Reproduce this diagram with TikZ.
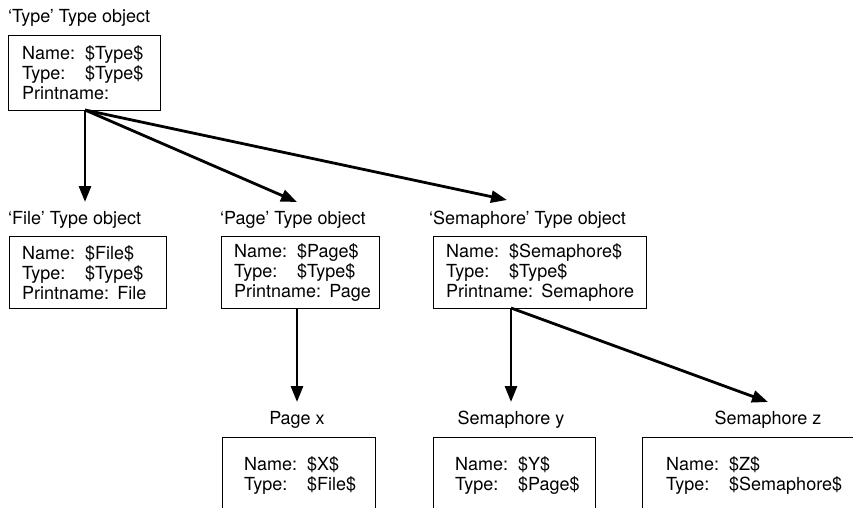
\documentclass[tikz,border=0pt]{standalone}
\usepackage{fontspec}
\setmainfont{TeX Gyre Heros}
\usetikzlibrary{arrows.meta}
% a field label padded to a fixed width, followed by its value
\newcommand{\fld}[2]{\makebox[3.5em][l]{#1}#2}
\begin{document}
\begin{tikzpicture}[x=1pt,y=-1pt,
  every node/.style={font=\fontsize{18}{20}\selectfont},
  heading/.style={inner sep=0pt, anchor=west},
  caption/.style={inner sep=0pt},
  objbox/.style={draw, line width=1.3pt, anchor=north west, inner sep=0pt},
  fields/.style={align=left, inner sep=0pt, anchor=west},
  link/.style={line width=2.8pt, -{Triangle[length=16pt,width=12pt]}}]
\useasboundingbox (0,0) rectangle (853,508);
\clip (0,0) rectangle (853,508);

% root type object
\node[heading] (typecap) at (8,18) {‘Type’ Type object};
\node[objbox, minimum width=152, minimum height=75] (typeobj) at (8,35) {};
\node[fields, xshift=14pt] (typeobjf) at (typeobj.west)
  {\fld{Name:}{\$Type\$}\\ \fld{Type:}{\$Type\$}\\ Printname:};

% derived type objects
\node[heading] (filecap) at (8,220) {‘File’ Type object};
\node[objbox, minimum width=157, minimum height=72] (fileobj) at (9,236) {};
\node[fields, xshift=13pt] (fileobjf) at (fileobj.west)
  {\fld{Name:}{\$File\$}\\ \fld{Type:}{\$Type\$}\\ Printname:\hspace{0.45em}File};

\node[heading] (pagecap) at (220,220) {‘Page’ Type object};
\node[objbox, minimum width=158, minimum height=72] (pageobj) at (221,236) {};
\node[fields, xshift=13pt] (pageobjf) at (pageobj.west)
  {\fld{Name:}{\$Page\$}\\ \fld{Type:}{\$Type\$}\\ Printname:\hspace{0.45em}Page};

\node[heading] (semcap) at (429,220) {‘Semaphore’ Type object};
\node[objbox, minimum width=213, minimum height=72] (semobj) at (433,236) {};
\node[fields, xshift=13pt] (semobjf) at (semobj.west)
  {\fld{Name:}{\$Semaphore\$}\\ \fld{Type:}{\$Type\$}\\ Printname:\hspace{0.45em}Semaphore};

% instances (boxes run past the lower edge)
\node[caption] (pxcap) at (297,420) {Page x};
\node[objbox, minimum width=153, minimum height=76] (pagex) at (222,437) {};
\node[fields, xshift=22pt] (pagexf) at (pagex.west)
  {\fld{Name:}{\$X\$}\\ \fld{Type:}{\$File\$}};

\node[caption] (sycap) at (511,420) {Semaphore y};
\node[objbox, minimum width=162, minimum height=76] (semy) at (433,437) {};
\node[fields, xshift=22pt] (semyf) at (semy.west)
  {\fld{Name:}{\$Y\$}\\ \fld{Type:}{\$Page\$}};

\node[caption] (szcap) at (768,420) {Semaphore z};
\node[objbox, minimum width=260, minimum height=76] (semz) at (642,437) {};
\node[fields, xshift=24pt] (semzf) at (semz.west)
  {\fld{Name:}{\$Z\$}\\ \fld{Type:}{\$Semaphore\$}};

% connector end points
\coordinate (typeout) at (85,110);
\coordinate (filein) at (85,202);
\coordinate (pagein) at (297,202);
\coordinate (semin) at (507,200);
\coordinate (pageout) at (297,308);
\coordinate (pxin) at (297,402);
\coordinate (semout) at (511,308);
\coordinate (syin) at (511,402);
\coordinate (szin) at (768,402);

\draw[link] (typeout) -- (filein);
\draw[link] (typeout) -- (pagein);
\draw[link] (typeout) -- (semin);
\draw[link] (pageout) -- (pxin);
\draw[link] (semout) -- (syin);
\draw[link] (semout) -- (szin);
\end{tikzpicture}
\end{document}
